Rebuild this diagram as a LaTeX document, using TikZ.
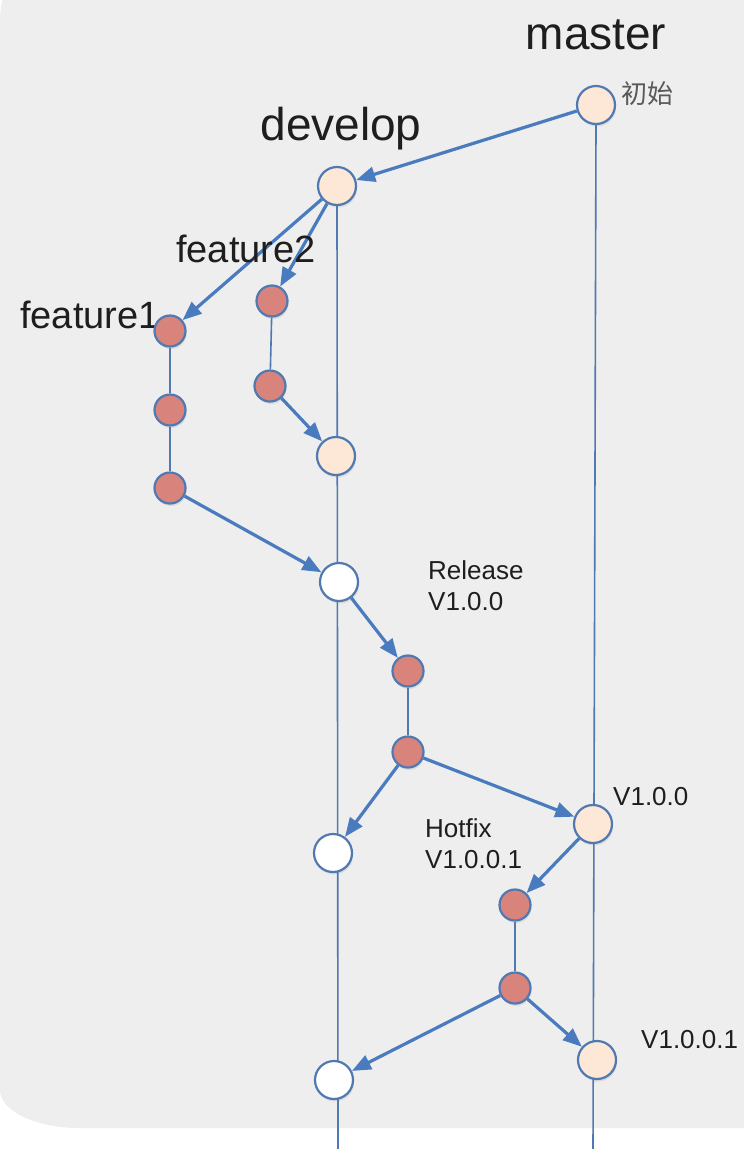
\documentclass[tikz,border=0pt]{standalone}
\usepackage{fontspec}
\setmainfont{Liberation Sans}
\newfontfamily\cjk{Noto Sans CJK SC}
\usetikzlibrary{arrows.meta,shadows}
\definecolor{panel}{HTML}{EEEEEE}
\definecolor{flow}{HTML}{4A7BBF}
\definecolor{rim}{HTML}{5079B2}
\definecolor{peach}{HTML}{FDE8D7}
\definecolor{rose}{HTML}{D9837D}
\definecolor{ink}{HTML}{1E1E1E}
\pgfdeclarelayer{bg}
\pgfdeclarelayer{lines}
\pgfsetlayers{bg,lines,main}
\begin{document}
\begin{tikzpicture}[x=1pt,y=-1pt,
  commit/.style={circle, draw=rim, line width=2.2pt, inner sep=0pt,
    drop shadow={opacity=0.18, shadow xshift=1pt, shadow yshift=-2.5pt}},
  big/.style={commit, minimum size=38pt},
  tip/.style={commit, minimum size=31pt, fill=rose},
  trunk/.style={draw=rim, line width=1.6pt},
  merge/.style={draw=flow, line width=3.2pt, -{Triangle[length=19pt,width=15pt]}},
  head/.style={font=\fontsize{46}{50}\selectfont, text=ink, anchor=base, inner sep=0pt},
  fname/.style={font=\fontsize{38}{42}\selectfont, text=ink, anchor=base, inner sep=0pt},
  tag/.style={font=\fontsize{26}{30}\selectfont, text=ink, anchor=base west, inner sep=0pt}
]
\useasboundingbox (0,0) rectangle (744,1149);
\begin{pgfonlayer}{bg}
  \fill[white] (0,0) rectangle (744,1149);
  \clip (0,0) rectangle (744,1149);
  % grey panel with a round top-left and a flatter bottom-left corner
  \fill[panel] (820,-60) -- (80,-60)
    arc[start angle=270, end angle=180, radius=80] -- (0,1090)
    arc[start angle=180, end angle=90, x radius=80, y radius=38]
    -- (820,1128) -- cycle;
\end{pgfonlayer}

% branch labels
\node[head] (lblmaster) at (596,49) {master};
\node[head] (lbldevelop) at (341,140) {develop};
\node[fname] (lblf2) at (246,262) {feature2};
\node[fname] (lblf1) at (90,328) {feature1};
\node[anchor=west, inner sep=0pt, text=black!65, font=\cjk\fontsize{26}{30}\selectfont] (lblinit) at (621,94) {初始};
\node[tag] (lblrel1) at (428,579) {Release};
\node[tag] (lblrel2) at (428,610) {V1.0.0};
\node[tag] (lblv100) at (613,805) {V1.0.0};
\node[tag] (lblhot1) at (425,837) {Hotfix};
\node[tag] (lblhot2) at (425,868) {V1.0.0.1};
\node[tag] (lblv1001) at (641,1048) {V1.0.0.1};

% commits
\node[big, fill=peach] (M0) at (596,105) {};
\node[big, fill=peach] (D0) at (337,186) {};
\node[tip] (F2a) at (272,301) {};
\node[tip] (F2b) at (270,386) {};
\node[tip] (F1a) at (170,331) {};
\node[tip] (F1b) at (170,410) {};
\node[tip] (F1c) at (170,488) {};
\node[big, fill=peach] (D1) at (336,456) {};
\node[big, fill=white] (D2) at (339,582) {};
\node[tip] (R1) at (408,671) {};
\node[tip] (R2) at (408,752) {};
\node[big, fill=white] (D3) at (333,853) {};
\node[big, fill=peach] (M1) at (593,824) {};
\node[tip] (H1) at (515,905) {};
\node[tip] (H2) at (515,988) {};
\node[big, fill=white] (D4) at (334,1080) {};
\node[big, fill=peach] (M2) at (597,1060) {};

\coordinate (devend) at (338,1149);
\coordinate (masend) at (593,1149);

\begin{pgfonlayer}{lines}
  % long-lived branches
  \draw[trunk] (D0.center |- D0.south) -- (devend);
  \draw[trunk] (M0.south) -- (masend);
  % short-lived branches
  \draw[trunk] (F1a) -- (F1b) -- (F1c);
  \draw[trunk] (F2a) -- (F2b);
  \draw[trunk] (R1) -- (R2);
  \draw[trunk] (H1) -- (H2);
  % branch-off and merge arrows
  \draw[merge] (M0) -- (D0);
  \draw[merge] (D0) -- (F1a);
  \draw[merge] (D0) -- (F2a);
  \draw[merge] (F2b) -- (D1);
  \draw[merge] (F1c) -- (D2);
  \draw[merge] (D2) -- (R1);
  \draw[merge] (R2) -- (D3);
  \draw[merge] (R2) -- (M1);
  \draw[merge] (M1) -- (H1);
  \draw[merge] (H2) -- (D4);
  \draw[merge] (H2) -- (M2);
\end{pgfonlayer}
\end{tikzpicture}
\end{document}
